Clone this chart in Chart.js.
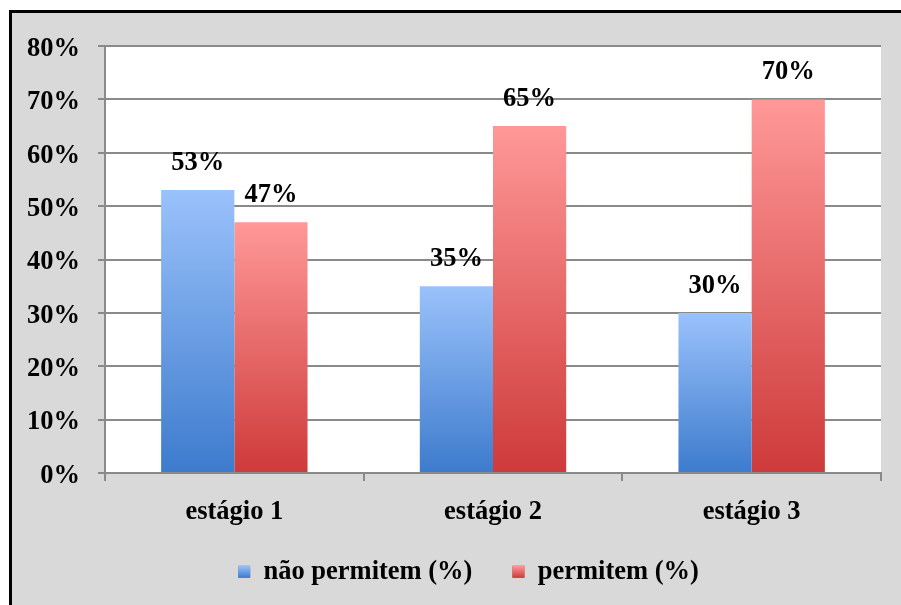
<!DOCTYPE html>
<html>
<head>
<meta charset="utf-8">
<script src="https://cdn.jsdelivr.net/npm/chart.js@4.4.1/dist/chart.umd.min.js"></script>
<style>
  html, body { margin: 0; padding: 0; background: #ffffff; }
  #frame {
    position: absolute; left: 9px; top: 10px; width: 900px; height: 600px;
    background: #d9d9d9; border-left: 3px solid #000; border-top: 3px solid #000;
  }
  #wrap { position: absolute; left: 0; top: 0; width: 901px; height: 605px; }
</style>
</head>
<body>
<div id="frame"></div>
<div id="wrap"><canvas id="c" width="901" height="605"></canvas></div>
<script>
const categories = ['estágio 1', 'estágio 2', 'estágio 3'];
const naoPermitem = [53, 35, 30];
const permitem = [47, 65, 70];
const yTicks = [0, 10, 20, 30, 40, 50, 60, 70, 80];

const FONT = '"Liberation Serif", "Times New Roman", serif';
const FONT_SIZE = 26.5;

const blueTop = '#9ac2fb', blueBottom = '#3d7bcd';
const redTop = '#ff9898', redBottom = '#ce3a3a';
const seriesColors = [[blueTop, blueBottom], [redTop, redBottom]];

const LEGEND_HEIGHT = 60;     // space reserved for the legend strip
const LEGEND_LIFT = 26.5;     // legend drawn a bit higher than its reserved strip
const LEGEND_SHIFT = 28;      // legend sits a little right of the canvas centre

// vertical gradient per bar, light at the top of the bar, dark at its base
function barGradient(top, bottom) {
  return function (ctx) {
    const chart = ctx.chart;
    const y = chart.scales.y;
    if (!y || ctx.raw === undefined || !chart.chartArea) return bottom;
    const y0 = y.getPixelForValue(0);
    const y1 = y.getPixelForValue(ctx.raw);
    if (!isFinite(y0) || !isFinite(y1) || y0 === y1) return bottom;
    const g = chart.ctx.createLinearGradient(0, y1, 0, y0);
    g.addColorStop(0, top);
    g.addColorStop(1, bottom);
    return g;
  };
}

const plotBackground = {
  id: 'plotBackground',
  beforeDraw(chart) {
    const a = chart.chartArea;
    const c = chart.ctx;
    c.save();
    c.fillStyle = '#ffffff';
    c.fillRect(a.left, a.top, a.right - a.left, a.bottom - a.top);
    c.restore();
  }
};

// fixed-height legend strip, moved after layout
const legendPlacement = {
  id: 'legendPlacement',
  beforeUpdate(chart) {
    const lg = chart.legend;
    if (lg && !lg._fixedFit) {
      const fit = lg.fit;
      lg.fit = function () { fit.call(this); this.height = LEGEND_HEIGHT; };
      lg._fixedFit = true;
    }
  },
  afterLayout(chart) {
    const lg = chart.legend;
    if (lg) {
      lg.left += LEGEND_SHIFT; lg.right += LEGEND_SHIFT;
      lg.top -= LEGEND_LIFT;
    }
  }
};

// repaint the legend swatches with the same vertical gradient as the bars
const legendSwatches = {
  id: 'legendSwatches',
  afterDraw(chart) {
    const lg = chart.legend;
    if (!lg || !lg.legendHitBoxes) return;
    const opts = lg.options.labels;
    const bw = opts.boxWidth, bh = opts.boxHeight;
    const c = chart.ctx;
    c.save();
    lg.legendHitBoxes.forEach((hb, i) => {
      const top = hb.top + Math.max((FONT_SIZE - bh) / 2, 0);
      const g = c.createLinearGradient(0, top, 0, top + bh);
      g.addColorStop(0, seriesColors[i][0]);
      g.addColorStop(1, seriesColors[i][1]);
      c.fillStyle = g;
      c.fillRect(hb.left, top, bw, bh);
    });
    c.restore();
  }
};

const valueLabels = {
  id: 'valueLabels',
  afterDatasetsDraw(chart) {
    const c = chart.ctx;
    c.save();
    c.font = 'bold ' + FONT_SIZE + 'px ' + FONT;
    c.fillStyle = '#000';
    c.textAlign = 'center';
    c.textBaseline = 'middle';
    chart.data.datasets.forEach((ds, di) => {
      chart.getDatasetMeta(di).data.forEach((bar, i) => {
        c.fillText(ds.data[i] + '%', bar.x, bar.y - 27);
      });
    });
    c.restore();
  }
};

new Chart(document.getElementById('c'), {
  type: 'bar',
  data: {
    labels: categories,
    datasets: [
      { label: 'não permitem (%)', data: naoPermitem, backgroundColor: barGradient(blueTop, blueBottom),
        categoryPercentage: 0.566, barPercentage: 1.0 },
      { label: 'permitem (%)', data: permitem, backgroundColor: barGradient(redTop, redBottom),
        categoryPercentage: 0.566, barPercentage: 1.0 }
    ]
  },
  options: {
    responsive: false,
    animation: false,
    layout: { padding: { left: 0, right: 20, top: 46, bottom: 0 } },
    plugins: {
      legend: {
        position: 'bottom',
        labels: {
          font: { family: FONT, size: FONT_SIZE, weight: 'bold' },
          color: '#000',
          boxWidth: 12,
          boxHeight: 12,
          padding: 40,
          generateLabels(chart) {
            return chart.data.datasets.map((ds, i) => ({
              text: ds.label,
              fillStyle: seriesColors[i][1],
              strokeStyle: 'rgba(0,0,0,0)',
              lineWidth: 0,
              datasetIndex: i,
              hidden: false
            }));
          }
        }
      },
      tooltip: { enabled: false }
    },
    scales: {
      x: {
        offset: true,
        grid: { display: true, drawOnChartArea: false, color: '#8a8a8a', lineWidth: 2, tickLength: 8, offset: true },
        border: { display: true, color: '#8a8a8a', width: 2 },
        ticks: { font: { family: FONT, size: FONT_SIZE, weight: 'bold' }, color: '#000', padding: 15 },
        afterFit(scale) { scale.height = 72; }
      },
      y: {
        min: 0, max: 80,
        afterBuildTicks(scale) { scale.ticks = yTicks.map(v => ({ value: v })); },
        grid: { color: '#8a8a8a', lineWidth: 2, tickLength: 7 },
        border: { display: true, color: '#8a8a8a', width: 2 },
        ticks: {
          font: { family: FONT, size: FONT_SIZE, weight: 'bold' }, color: '#000', padding: 18,
          labelOffset: 3,
          callback: v => v + '%'
        },
        afterFit(scale) { scale.width = 105; }
      }
    }
  },
  plugins: [legendPlacement, plotBackground, valueLabels, legendSwatches]
});
</script>
</body>
</html>
